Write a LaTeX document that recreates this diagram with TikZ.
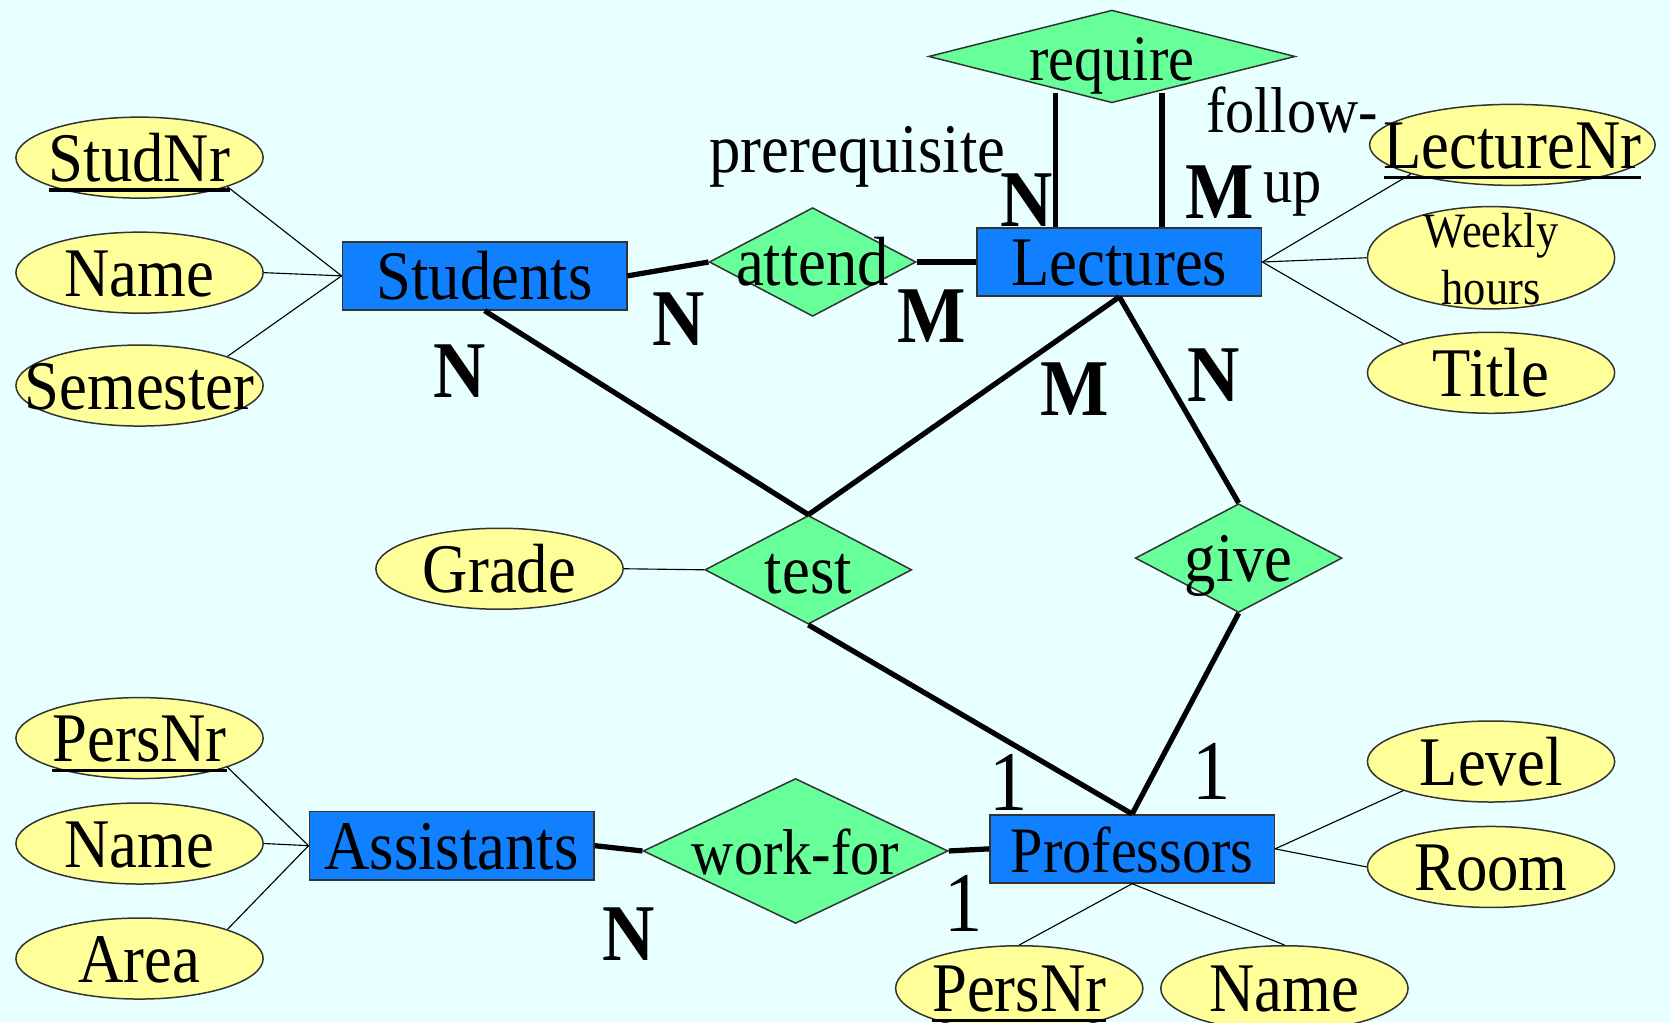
\documentclass[tikz,border=0pt]{standalone}
\usepackage{fontspec}
\setmainfont{Liberation Serif}[FakeStretch=0.9]
\usepackage{xcolor}
\usetikzlibrary{shapes.geometric}

\definecolor{bgcyan}{RGB}{232,255,255}
\definecolor{entblue}{RGB}{17,128,255}
\definecolor{relgreen}{RGB}{102,255,153}
\definecolor{attyellow}{RGB}{255,255,153}

\newcommand{\erfont}{\fontsize{18.6}{22}\selectfont}
\newcommand{\narrowfont}{\fontsize{17.3}{20}\selectfont}
\newcommand{\cardfont}{\fontsize{21.5}{25}\selectfont}
\newcommand{\onefont}{\fontsize{22.7}{26}\selectfont}
\newcommand{\hoursfont}{\fontsize{13.2}{15.1}\selectfont}
\newcommand{\keyattr}[1]{\setbox0\hbox{#1}\rlap{\vrule width\wd0 height -1.9pt depth 2.8pt}\box0}

\tikzset{
	pptbox/.style={text height=0pt, text depth=0pt,
		execute at begin node={\hbox to 0pt\bgroup\hss\lower6.3pt\hbox\bgroup},
		execute at end node={\egroup\hss\egroup}},
	entity/.style={rectangle, draw=black!80, fill=entblue, minimum width=2.67cm, minimum height=0.64cm, inner sep=0pt, font=\erfont, pptbox},
	relship/.style={diamond, draw=black!80, fill=relgreen, minimum width=1.94cm, minimum height=1.02cm, inner sep=0pt, font=\erfont, pptbox},
	attrib/.style={ellipse, draw=black!80, fill=attyellow, minimum width=2.32cm, minimum height=0.76cm, inner sep=0pt, font=\erfont, pptbox},
	card/.style={inner sep=0pt, font=\cardfont\bfseries},
	one/.style={inner sep=0pt, font=\onefont},
	role/.style={inner sep=0pt, font=\erfont},
	relline/.style={line width=1.4pt},
	attline/.style={line width=0.3pt},
}

\begin{document}
\begin{tikzpicture}[x=0.01cm, y=-0.01cm]
	\useasboundingbox (0,0) rectangle (1568,960);
	\clip (0,0) rectangle (1568,960);
	\fill[bgcyan] (0,0) rectangle (1568,960);

	% entities
	\node[entity] (students) at (455,259) {Students};
	\node[entity] (lectures) at (1051,246) {Lectures};
	\node[entity] (assistants) at (424,794) {Assistants};
	\node[entity, font=\narrowfont] (professors) at (1063,797) {Professors};

	% relationships
	\node[relship, minimum width=3.44cm, minimum height=0.87cm, font=\narrowfont] (require) at (1044,53) {require};
	\node[relship] (attend) at (763,246) {attend};
	\node[relship] (test) at (759,535) {test};
	\node[relship] (give) at (1163,524) {give};
	\node[relship, minimum width=2.86cm, minimum height=1.36cm, font=\narrowfont] (workfor) at (747,799) {work-for};

	% attributes
	\node[attrib] (studnr) at (131,148) {\keyattr{StudNr}};
	\node[attrib] (sname) at (131,256) {Name};
	\node[attrib] (semester) at (131,362) {Semester};
	\node[attrib] (grade) at (469,534) {Grade};
	\node[attrib, minimum width=2.68cm] (lecturenr) at (1420,136) {\keyattr{LectureNr}};
	\node[attrib, minimum height=0.96cm, font=\hoursfont] (weekly) at (1400,242)
		{\raisebox{1.4pt}{\begin{tabular}{@{}c@{}}Weekly\\hours\end{tabular}}};
	\node[attrib] (title) at (1400,350) {Title};
	\node[attrib] (apersnr) at (131,693) {\keyattr{PersNr}};
	\node[attrib] (aname) at (131,792) {Name};
	\node[attrib] (area) at (131,900) {Area};
	\node[attrib] (level) at (1400,715) {Level};
	\node[attrib] (room) at (1400,814) {Room};
	\node[attrib, minimum height=0.8cm] (ppersnr) at (957,928) {\keyattr{PersNr}};
	\node[attrib, minimum height=0.8cm] (pname) at (1206,928) {Name};

	% relationship lines
	\draw[relline] (students.east) -- (attend.west);
	\draw[relline] (attend.east) -- (lectures.west);
	\draw[relline] (students.south) -- (test.north);
	\draw[relline] (lectures.south) -- (test.north);
	\draw[relline] (lectures.south) -- (give.north);
	\draw[relline] (test.south) -- (professors.north);
	\draw[relline] (give.south) -- (professors.north);
	\draw[relline] (assistants.east) -- (workfor.west);
	\draw[relline] (workfor.east) -- (professors.west);
	\coordinate (preend) at (991,87);
	\coordinate (followend) at (1091,87);
	\draw[relline] (lectures.north -| preend) -- (preend);
	\draw[relline] (lectures.north -| followend) -- (followend);

	% attribute lines
	\draw[attline] (grade.east) -- (test.west);
	\draw[attline] (studnr.south east) -- (students.west);
	\draw[attline] (sname.east) -- (students.west);
	\draw[attline] (semester.north east) -- (students.west);
	\draw[attline] (lecturenr.south west) -- (lectures.east);
	\draw[attline] (weekly.west) -- (lectures.east);
	\draw[attline] (title.north west) -- (lectures.east);
	\draw[attline] (apersnr.south east) -- (assistants.west);
	\draw[attline] (aname.east) -- (assistants.west);
	\draw[attline] (area.north east) -- (assistants.west);
	\draw[attline] (level.south west) -- (professors.east);
	\draw[attline] (room.west) -- (professors.east);
	\draw[attline] (ppersnr.north) -- (professors.south);
	\draw[attline] (pname.north) -- (professors.south);

	% cardinalities and roles
	\node[card] (c1) at (637,300) {N};
	\node[card] (c2) at (875,297) {M};
	\node[card] (c3) at (964,188) {N};
	\node[card] (c4) at (1145,180) {M};
	\node[card] (c5) at (432,348) {N};
	\node[card] (c6) at (1009,365) {M};
	\node[card] (c7) at (1140,352) {N};
	\node[card] (c8) at (590,877) {N};
	\node[one] (c9) at (947,735) {1};
	\node[one] (c10) at (1138,724) {1};
	\node[one] (c11) at (905,848) {1};
	\node[role] (prereq) at (805,147) {prerequisite};
	\node[role, font=\narrowfont] (follow) at (1213,103) {follow-};
	\node[role, font=\narrowfont] (up) at (1214,182) {up};
\end{tikzpicture}
\end{document}
